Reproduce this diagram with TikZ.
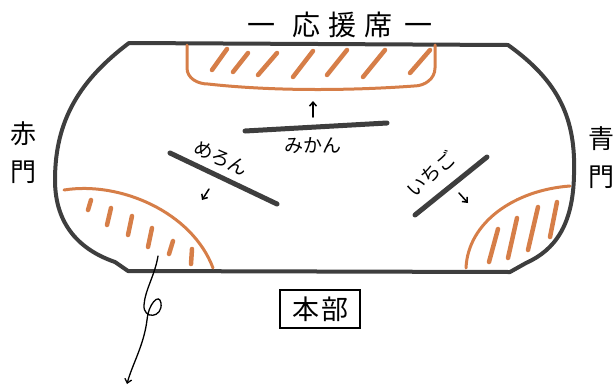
\documentclass[tikz,border=0pt]{standalone}
\usepackage{fontspec}
\setmainfont{Noto Sans CJK JP}
\usetikzlibrary{arrows.meta,positioning,calc}

\definecolor{fieldgray}{RGB}{62,62,62}
\definecolor{seatorange}{RGB}{214,126,72}

\begin{document}
\begin{tikzpicture}[x=1pt, y=-1pt, node distance=6pt,
    fieldline/.style={draw=fieldgray, line width=4pt, line join=round},
    seatzone/.style={draw=seatorange, line width=3pt, line cap=round},
    hatchline/.style={draw=seatorange, line width=4.5pt, line cap=round},
    lanebar/.style={draw=fieldgray, line width=5pt, line cap=round},
    walkarrow/.style={-{Straight Barb[length=4pt,width=7pt]}, line width=1.5pt, line cap=round},
    kanatag/.style={font=\fontsize{19}{19}\selectfont, inner sep=0pt}]
      \useasboundingbox (0,0) rectangle (616,389);

      % field outline
      \draw[fieldline] (129,43) -- (508,45)
        .. controls (560,82) and (576,120) .. (574,175)
        .. controls (573,225) and (555,250) .. (526,263) -- (510,272)
        -- (128,271) -- (115,262)
        .. controls (80,250) and (55,225) .. (55,180)
        .. controls (55,120) and (80,80) .. cycle;

      % seating areas
      \draw[seatzone] (187,45) -- (187,68) to[out=-90, in=180] (208,84)
        .. controls (280,92) and (360,90) .. (414,86) to[out=0, in=-90] (435,68) -- (435,45);
      \draw[hatchline] (212,70) -- (227,49) (233,72) -- (248,53) (258,75) -- (277,53)
        (293,77) -- (313,51) (327,75) -- (347,50) (363,77) -- (385,50) (410,73) -- (430,50);

      \draw[seatzone] (64,190) .. controls (120,181) and (192,212) .. (213,268);
      \draw[hatchline] (91,200) -- (88,210) (111,208) -- (107,225) (132,216) -- (128,235)
        (152,228) -- (148,247) (173,241) -- (169,254) (192,249) -- (191,264);

      \draw[seatzone] (466,268) .. controls (468,222) and (515,190) .. (570,186);
      \draw[hatchline] (498,229) -- (489,262) (517,218) -- (508,258)
        (538,207) -- (528,250) (557,202) -- (550,237);

      % lanes
      \coordinate (mk1) at (245,131);
      \coordinate (mk2) at (387,123);
      \coordinate (mr1) at (170,153);
      \coordinate (mr2) at (277,204);
      \coordinate (ic1) at (415,215);
      \coordinate (ic2) at (487,157);
      \draw[lanebar] (mk1) -- (mk2);
      \draw[lanebar] (mr1) -- (mr2);
      \draw[lanebar] (ic1) -- (ic2);

      % lane names
      \coordinate (mkmid) at ($(mk1)!0.48!(mk2)$);
      \node[kanatag, below=10pt of mkmid] (mikan) {みかん};
      \node[kanatag, rotate=-25] (meron) at (221,158) {めろん};
      \node[kanatag, rotate=42] (ichigo) at (431,174) {いちご};

      % walking directions
      \coordinate (mkfrom) at (313,117);
      \coordinate (mkto) at (313,101);
      \coordinate (mrfrom) at (209,189);
      \coordinate (mrto) at (202,200);
      \coordinate (icfrom) at (459,193);
      \coordinate (icto) at (468,203);
      \draw[walkarrow] (mkfrom) -- (mkto);
      \draw[walkarrow] (mrfrom) -- (mrto);
      \draw[walkarrow] (icfrom) -- (icto);

      % place names
      \node[font=\fontsize{28}{28}\selectfont, inner sep=0pt] (cheer) at (340,25)
        {一\hspace{18pt}応\hspace{8pt}援\hspace{8pt}席\hspace{12pt}一};
      \node[font=\fontsize{26}{38}\selectfont, align=center, inner sep=0pt] (redgate) at (23,153) {赤\\門};
      \node[font=\fontsize{26}{38}\selectfont, align=center, inner sep=0pt] (bluegate) at (601,158) {青\\門};
      \node[draw, line width=1.8pt, font=\fontsize{27}{27}\selectfont, minimum width=80pt, minimum height=38pt] (hq) at (320,309) {本\hspace{2pt}部};

      % exit route
      \coordinate (exitfrom) at (158,256);
      \coordinate (exitto) at (127,384);
      \draw[walkarrow, line width=1.3pt] (exitfrom) .. controls (155,275) and (145,290) .. (144,305)
        .. controls (143,320) and (163,318) .. (161,303)
        .. controls (159,292) and (148,305) .. (147,320)
        .. controls (144,345) and (132,365) .. (exitto);
    \end{tikzpicture}
\end{document}
